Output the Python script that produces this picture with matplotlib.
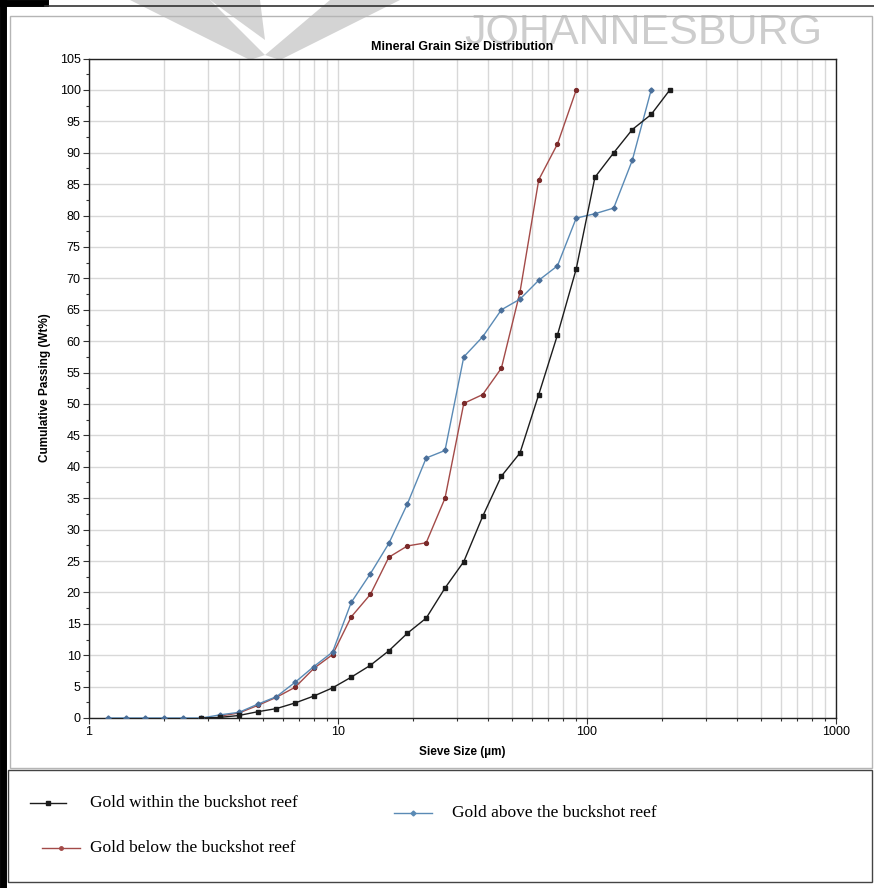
import matplotlib
matplotlib.use("Agg")
import matplotlib.pyplot as plt
from matplotlib.patches import Rectangle, Polygon
from matplotlib.lines import Line2D
from matplotlib.ticker import LogLocator, MultipleLocator, NullFormatter, FixedLocator, FixedFormatter

# ---- data ----
size_within = [2.83, 3.36, 4.0, 4.76, 5.66, 6.73, 8.0, 9.51, 11.3, 13.5, 16.0, 19.0, 22.6,
               26.9, 32.0, 38.1, 45.3, 53.8, 64.0, 76.1, 90.5, 107.6, 128.0, 152.0, 181.0, 215.0]
pass_within = [0.0, 0.1, 0.4, 1.0, 1.5, 2.4, 3.5, 4.8, 6.5, 8.4, 10.7, 13.5, 15.9,
               20.7, 24.9, 32.1, 38.5, 42.2, 51.5, 61.0, 71.5, 86.1, 90.0, 93.7, 96.1, 100.0]

size_below = [3.36, 4.0, 4.76, 5.66, 6.73, 8.0, 9.51, 11.3, 13.5, 16.0, 19.0, 22.6,
              26.9, 32.0, 38.1, 45.3, 53.8, 64.0, 76.1, 90.5]
pass_below = [0.3, 0.8, 2.0, 3.3, 4.9, 7.9, 10.1, 16.1, 19.7, 25.6, 27.4, 27.9,
              35.0, 50.1, 51.5, 55.7, 67.8, 85.7, 91.4, 100.0]

size_above = [1.19, 1.41, 1.68, 2.0, 2.38, 2.83, 3.36, 4.0, 4.76, 5.66, 6.73, 8.0, 9.51,
              11.3, 13.5, 16.0, 19.0, 22.6, 26.9, 32.0, 38.1, 45.3, 53.8, 64.0, 76.1,
              90.5, 107.6, 128.0, 152.0, 181.0]
pass_above = [0.0, 0.0, 0.0, 0.0, 0.0, 0.0, 0.5, 0.9, 2.2, 3.4, 5.7, 8.2, 10.5,
              18.4, 23.0, 27.8, 34.1, 41.4, 42.6, 57.5, 60.7, 65.0, 66.7, 69.7, 72.0,
              79.6, 80.3, 81.2, 88.8, 100.0]

labels = ["Gold within the buckshot reef", "Gold below the buckshot reef", "Gold above the buckshot reef"]
x_ticks = [1, 10, 100, 1000]
x_tick_labels = ["1", "10", "100", "1000"]

C_BLACK = "#1c1c1c"
C_RED = "#a34a48"
C_BLUE = "#5a8ab5"

W, H = 874, 888
fig = plt.figure(figsize=(W / 100, H / 100), dpi=100)
fig.patch.set_facecolor("white")

def fx(px):
    return px / W

def fy(py):
    return 1 - py / H

# watermark
fig.text(fx(643), fy(33), "JOHANNESBURG", fontsize=31, color="#cdcdcd",
         family="Liberation Sans", ha="center", va="center", zorder=0)
for pts in ([(130, 0), (210, 0), (265, 55), (250, 60)],
            [(265, 55), (330, 0), (400, 0), (280, 60)],
            [(210, 0), (260, 0), (265, 40)]):
    fig.add_artist(Polygon([(fx(a), fy(b)) for a, b in pts], closed=True,
                           facecolor="#d4d4d4", edgecolor="none", zorder=0))

# frames
fig.add_artist(Rectangle((fx(10), fy(768)), fx(862), (768 - 16) / H, fill=False,
                         edgecolor="#b5b5b5", lw=1.0, zorder=1))
fig.add_artist(Rectangle((fx(8), fy(882)), fx(864), (882 - 770) / H, fill=False,
                         edgecolor="#444444", lw=1.0, zorder=1))
fig.add_artist(Line2D([fx(3), fx(3)], [0, 1], color="black", lw=5, zorder=2))
fig.add_artist(Line2D([0, fx(45)], [fy(3), fy(3)], color="black", lw=5, zorder=2))
fig.add_artist(Line2D([fx(45), fx(874)], [fy(6), fy(6)], color="#333333", lw=1.2, zorder=2))

ax = fig.add_axes([fx(89), fy(718), (836 - 89) / W, (718 - 58.6) / H])
ax.set_xscale("log")
ax.set_xlim(1, 1000)
ax.set_ylim(0, 105)

ax.plot(size_within, pass_within, color=C_BLACK, lw=1.0, marker="s", ms=3.0, zorder=4)
ax.plot(size_below, pass_below, color=C_RED, lw=1.0, marker="o", ms=2.8,
        mfc="#7a2a2a", mec="#7a2a2a", zorder=3)
ax.plot(size_above, pass_above, color=C_BLUE, lw=1.0, marker="D", ms=2.6,
        mfc="#4a6f9a", mec="#4a6f9a", zorder=3)

ax.xaxis.set_major_locator(FixedLocator(x_ticks))
ax.xaxis.set_major_formatter(FixedFormatter(x_tick_labels))
ax.xaxis.set_minor_locator(LogLocator(base=10, subs=range(2, 10)))
ax.xaxis.set_minor_formatter(NullFormatter())
ax.yaxis.set_major_locator(MultipleLocator(5))
ax.yaxis.set_minor_locator(MultipleLocator(2.5))

ax.grid(True, which="major", axis="y", color="#d8d8d8", lw=1.0)
ax.grid(True, which="both", axis="x", color="#d8d8d8", lw=1.0)
ax.set_axisbelow(True)

ax.tick_params(axis="both", which="major", labelsize=9, length=4, width=0.8, color="#333333", pad=2)
ax.tick_params(axis="both", which="minor", length=2.5, width=0.8, color="#333333")
for lab in ax.get_xticklabels() + ax.get_yticklabels():
    lab.set_family("Liberation Sans")
for sp in ax.spines.values():
    sp.set_color("#222222")
    sp.set_linewidth(1.0)

narrow = ["Liberation Sans Narrow", "Liberation Sans", "DejaVu Sans"]
fig.text(fx(462), fy(47), "Mineral Grain Size Distribution", fontsize=9, fontweight="bold",
         family=narrow, ha="center", va="center", zorder=3)
fig.text(fx(462), fy(752), "Sieve Size (\u00b5m)", fontsize=8.5, fontweight="bold",
         family=narrow, ha="center", va="center")
fig.text(fx(45), fy(388), "Cumulative Passing (Wt%)", fontsize=8.5, fontweight="bold",
         family=narrow, ha="center", va="center", rotation=90)

# legend
serif = ["Liberation Serif", "DejaVu Serif"]
entries = [(labels[0], C_BLACK, "s", 30, 66, 90, 803),
           (labels[2], C_BLUE, "D", 394, 432, 452, 813),
           (labels[1], C_RED, "o", 42, 80, 90, 848)]
for text, col, mk, x1, x2, tx, y in entries:
    fig.add_artist(Line2D([fx(x1), fx(x2)], [fy(y), fy(y)], color=col, lw=1.0))
    fig.add_artist(Line2D([fx((x1 + x2) / 2)], [fy(y)], color=col, marker=mk, ms=2.5))
    fig.text(fx(tx), fy(y), text, fontsize=12.5, family=serif, ha="left", va="center")

fig.savefig("out.png", dpi=100, facecolor="white")
